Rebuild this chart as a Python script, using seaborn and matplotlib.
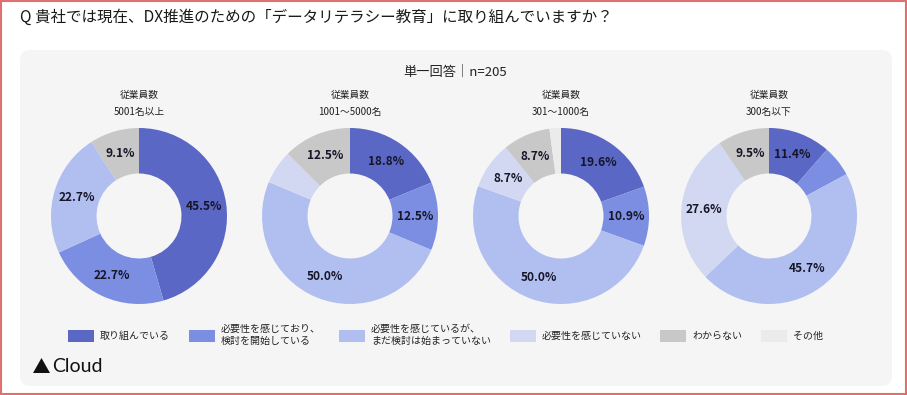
import matplotlib
matplotlib.use("Agg")
import matplotlib.pyplot as plt
import matplotlib.patches as mpatches
from matplotlib.transforms import IdentityTransform
from matplotlib.offsetbox import TextArea, OffsetBox
import numpy as np
import seaborn as sns

# ---------------- data ----------------
title = "Q 貴社では現在、DX推進のための「データリテラシー教育」に取り組んでいますか？"
subtitle = "単一回答｜n=205"
group_head = "従業員数"
groups = ["5001名以上", "1001～5000名", "301～1000名", "300名以下"]
categories = [
    "取り組んでいる",
    "必要性を感じており、\n検討を開始している",
    "必要性を感じているが、\nまだ検討は始まっていない",
    "必要性を感じていない",
    "わからない",
    "その他",
]
vals_5001 = [45.5, 22.7, 22.7, 0.0, 9.1, 0.0]
vals_1001 = [18.8, 12.5, 50.0, 6.2, 12.5, 0.0]
vals_301 = [19.6, 10.9, 50.0, 8.7, 8.7, 2.1]
vals_300 = [11.4, 5.7, 45.7, 27.6, 9.5, 0.0]
series = [vals_5001, vals_1001, vals_301, vals_300]
colors = ["#5a67c4", "#7b8ee2", "#b1bef0", "#d2d8f2", "#c8c8c8", "#ebebeb"]

# ---------------- style ----------------
sns.set_theme(style="white")
plt.rcParams["font.family"] = ["Noto Sans CJK JP", "DejaVu Sans"]
palette = sns.color_palette(colors)

W, H = 907, 395
fig = plt.figure(figsize=(W / 100, H / 100), dpi=100)
fig.patch.set_facecolor("white")


def fx(x):
    return x / W


def fy(y):
    return 1 - y / H


# outer red border
fig.add_artist(mpatches.Rectangle((0.75, 0.75), W - 1.5, H - 1.5, transform=IdentityTransform(),
                                  fill=False, edgecolor="#e07070", linewidth=1.5, zorder=-10))
# grey rounded panel
fig.add_artist(mpatches.FancyBboxPatch((20, H - 386), 872, 336, transform=IdentityTransform(),
                                       boxstyle="round,pad=0,rounding_size=10",
                                       facecolor="#f5f5f5", edgecolor="none", zorder=-10))

fig.text(fx(20), fy(17), title, ha="left", va="center", fontsize=11.2, color="#1a1a1a")
fig.text(fx(455), fy(72), subtitle, ha="center", va="center", fontsize=9.5, color="#222222")

centers = [139, 350, 561, 769]
cy = 216
R = 88
wedge_w = 0.517

for cx, grp, vals in zip(centers, groups, series):
    ax = fig.add_axes([fx(cx - R), fy(cy + R), 2 * R / W, 2 * R / H])
    ax.patch.set_visible(False)
    wedges, _ = ax.pie(vals, colors=palette, radius=1, startangle=90, counterclock=False,
                       wedgeprops=dict(width=wedge_w, linewidth=0))
    ax.set_xlim(-1, 1)
    ax.set_ylim(-1, 1)
    ax.axis("off")
    r_lab = 1 - wedge_w / 2
    for w, v in zip(wedges, vals):
        if v >= 8:
            ang = np.deg2rad((w.theta1 + w.theta2) / 2)
            ax.text(r_lab * np.cos(ang), r_lab * np.sin(ang), f"{v:.1f}%", ha="center",
                    va="center", fontsize=8.6, fontweight="bold", color="#161628")
    fig.text(fx(cx), fy(95), group_head, ha="center", va="center", fontsize=7, color="#222222")
    fig.text(fx(cx), fy(112), grp, ha="center", va="center", fontsize=7, color="#222222")

handles = [mpatches.Patch(facecolor=c, edgecolor="none") for c in palette]
leg = fig.legend(handles, categories, ncol=6, loc="center left",
                 bbox_to_anchor=(fx(68), fy(335)), frameon=False, fontsize=7.2,
                 handlelength=2.6, handleheight=1.5, handletextpad=0.6,
                 columnspacing=1.85, borderpad=0, borderaxespad=0)
for t in leg.get_texts():
    t.set_color("#222222")


def walk(box):
    for c in box.get_children():
        if isinstance(c, TextArea):
            c.set_multilinebaseline(True)
        elif isinstance(c, OffsetBox):
            walk(c)


walk(leg._legend_box)

# logo
fig.add_artist(mpatches.Polygon([(33, H - 373), (50, H - 373), (41.5, H - 358)],
                                closed=True, transform=IdentityTransform(),
                                facecolor="#111111", edgecolor="none"))
fig.text(fx(52), fy(366), "Cloud", ha="left", va="center", fontsize=14,
         family=["Lato", "DejaVu Sans"], color="#111111")

fig.savefig("out.png", dpi=100)
